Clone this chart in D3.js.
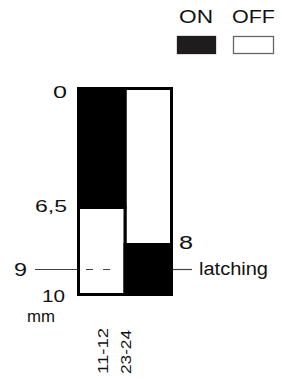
<!DOCTYPE html>
<html>
<head>
<meta charset="utf-8">
<script src="https://cdn.jsdelivr.net/npm/d3@7"></script>
<style>
  body { margin: 0; background: #fff; }
  text { font-family: "Liberation Sans", Arial, sans-serif; fill: #111; }
</style>
</head>
<body>
<div id="chart"></div>
<script>
// data
var contacts = ["11-12", "23-24"];
var states = ["ON", "OFF"];
// travel segments per contact: [from, to, state]
var segments11 = [[0, 6.5, "ON"], [6.5, 10, "OFF"]];
var segments23 = [[0, 8, "OFF"], [8, 10, "ON"]];
var stops = [0, 6.5, 8, 9, 10];
var leftTicks = [0, 6.5, 10];
var leftTickLabels = ["0", "6,5", "10"];
var rightTicks = [8];
var rightTickLabels = ["8"];
var latchValue = 9;
var latchLabel = "latching";
var unitLabel = "mm";

var svgWidth = 282, svgHeight = 379;

var svg = d3.select("#chart")
    .append("svg")
    .attr("width", svgWidth)
    .attr("height", svgHeight);

// schematic (not to scale) travel axis
var y = d3.scaleLinear()
    .domain(stops)
    .range([88.5, 207.5, 244.5, 269.5, 294.5]);

var x = d3.scaleBand()
    .domain(contacts)
    .range([78.5, 171.5])
    .padding(0);

var fillFor = d3.scaleOrdinal().domain(states).range(["#000", "#fff"]);

var allSegs = [];
segments11.forEach(s => allSegs.push({ c: "11-12", a: s[0], b: s[1], st: s[2] }));
segments23.forEach(s => allSegs.push({ c: "23-24", a: s[0], b: s[1], st: s[2] }));

// OFF first so black strokes sit on top
allSegs.sort((p, q) => (p.st === "OFF" ? -1 : 1));

svg.append("g").selectAll("rect")
    .data(allSegs)
    .enter()
    .append("rect")
    .attr("x", d => x(d.c))
    .attr("y", d => y(d.a))
    .attr("width", x.bandwidth())
    .attr("height", d => y(d.b) - y(d.a))
    .attr("fill", d => fillFor(d.st))
    .attr("stroke", "#000")
    .attr("stroke-width", 3);

// latching line
var ly = y(latchValue);
var line = svg.append("g").attr("stroke", "#444").attr("stroke-width", 1.2);
line.append("line").attr("x1", 35).attr("x2", x("11-12") - 1.5).attr("y1", ly).attr("y2", ly);
line.append("line").attr("x1", 86).attr("x2", 113).attr("y1", ly).attr("y2", ly)
    .attr("stroke-dasharray", "7,10");
line.append("line").attr("x1", x("23-24") + x.bandwidth() + 1.5).attr("x2", 192).attr("y1", ly).attr("y2", ly);

// helper for stretched text
function label(t, x0, yb, len, size) {
    return svg.append("text")
        .attr("x", x0)
        .attr("y", yb)
        .attr("font-size", size)
        .attr("textLength", len)
        .attr("lengthAdjust", "spacingAndGlyphs")
        .text(t);
}

// left tick labels (right edge ~67)
var leftLayout = { "0": [14, 9.5, 67], "6,5": [32, 4.5, 67], "10": [23, 7.5, 65] };
leftTicks.forEach((v, i) => {
    var t = leftTickLabels[i], L = leftLayout[t];
    label(t, L[2] - L[0], y(v) + L[1], L[0], 17);
});
rightTicks.forEach((v, i) => {
    label(rightTickLabels[i], 179, y(v) + 4.5, 14, 18);
});
label(String(latchValue), 14, ly + 6.5, 13, 18);
label(latchLabel, 199, ly + 5.5, 69, 18);
label(unitLabel, 27, 322, 28, 17);

// legend
states.forEach((s, i) => {
    var lx = [177, 233][i];
    label(s, [179, 232][i], 23, [34, 43][i], 18);
    svg.append("rect")
        .attr("x", lx + 0.5)
        .attr("y", 36.5)
        .attr("width", [39, 41][i] - 1)
        .attr("height", 17)
        .attr("fill", s === "ON" ? "#1f1c1d" : "#fff")
        .attr("stroke", s === "ON" ? "#1f1c1d" : "#666")
        .attr("stroke-width", 1.3);
});

// contact labels, rotated
var contactLayout = { "11-12": [6, 46], "23-24": [-17, 44] };
contacts.forEach(c => {
    var cx = x(c) + x.bandwidth() / 2 + contactLayout[c][0];
    svg.append("text")
        .attr("transform", `translate(${cx},374) rotate(-90)`)
        .attr("font-size", 15)
        .attr("textLength", contactLayout[c][1])
        .attr("lengthAdjust", "spacingAndGlyphs")
        .text(c);
});
</script>
</body>
</html>
